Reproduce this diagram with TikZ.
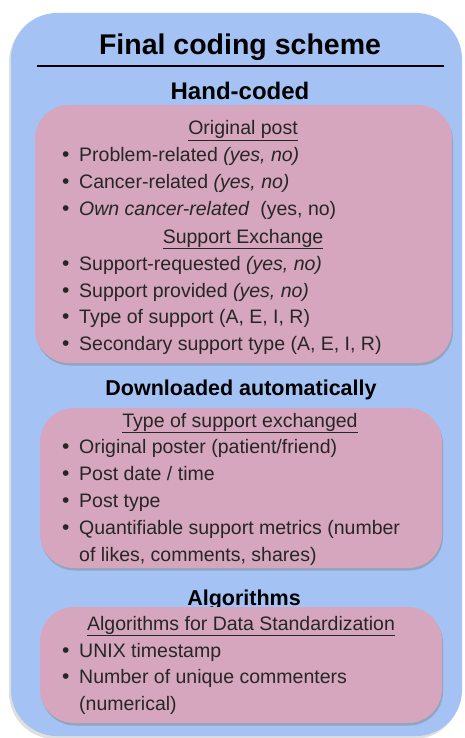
\documentclass[tikz,border=0pt]{standalone}
\usepackage{fontspec}
\setmainfont{Liberation Sans}
\usetikzlibrary{shadows}
\definecolor{outerblue}{HTML}{A4C2F4}
\definecolor{innerpink}{HTML}{D5A6BD}
\tikzset{
  x=1pt, y=-1pt,
  outerpanel/.style={fill=outerblue, rounded corners=46pt,
    drop shadow={opacity=0.25, shadow xshift=-2pt, shadow yshift=-3pt}},
  innerpanel/.style={fill=innerpink, rounded corners=34pt,
    drop shadow={opacity=0.45, shadow xshift=1pt, shadow yshift=-2.5pt}},
  titletext/.style={font=\fontsize{28.5}{32}\selectfont\bfseries, anchor=base, inner sep=0pt},
  sectiontext/.style={font=\fontsize{21.5}{25}\selectfont\bfseries, anchor=base, inner sep=0pt},
  headtext/.style={font=\fontsize{19.5}{23}\selectfont, anchor=base, inner sep=0pt, text=black!85},
  itemtext/.style={font=\fontsize{19.5}{23}\selectfont, anchor=base west, inner sep=0pt, text=black!85},
}
\newcommand{\itm}{\makebox[17pt][l]{\raisebox{-0.5pt}{\fontsize{21}{21}\selectfont\textbullet}}}
\newcommand{\ul}[1]{\underline{#1}}
\begin{document}
\begin{tikzpicture}
\useasboundingbox (0,0) rectangle (464,738);
% outer panel
\path[outerpanel] (11,13) rectangle (462,736);
% title and rule
\node[titletext] (title) at (240,55) {Final coding scheme};
\coordinate (ruleL) at (37,66);
\coordinate (ruleR) at (444,66);
\draw[line width=2pt] (ruleL) -- (ruleR);

% hand-coded section
\node[sectiontext, font=\fontsize{24}{28}\selectfont\bfseries] (hand) at (240,100) {Hand-coded};
\path[innerpanel] (35,105) rectangle (452,363);
\node[headtext] (orig) at (243,135) {\ul{Original post}};
\node[itemtext] (i1) at (62,161) {\itm Problem-related \textit{(yes, no)}};
\node[itemtext] (i2) at (62,188) {\itm Cancer-related \textit{(yes, no)}};
\node[itemtext] (i3) at (62,215) {\itm \textit{Own cancer-related}\ \ (yes, no)};
\node[headtext] (supp) at (243,243) {\ul{Support Exchange}};
\node[itemtext] (i4) at (62,270) {\itm Support-requested \textit{(yes, no)}};
\node[itemtext] (i5) at (62,297) {\itm Support provided \textit{(yes, no)}};
\node[itemtext] (i6) at (62,323) {\itm Type of support (A, E, I, R)};
\node[itemtext] (i7) at (62,350) {\itm Secondary support type (A, E, I, R)};

% downloaded section
\node[sectiontext] (down) at (241,395) {Downloaded automatically};
\path[innerpanel] (40,408) rectangle (442,568);
\node[headtext] (type) at (240,427) {\ul{Type of support exchanged}};
\node[itemtext] (d1) at (62,453) {\itm Original poster (patient/friend)};
\node[itemtext] (d2) at (62,480) {\itm Post date / time};
\node[itemtext] (d3) at (62,507) {\itm Post type};
\node[itemtext] (d4) at (62,534) {\itm Quantifiable support metrics (number};
\node[itemtext] (d5) at (79,561) {of likes, comments, shares)};

% algorithms section
\node[sectiontext] (alg) at (244,605) {Algorithms};
\path[innerpanel] (40,607) rectangle (442,723);
\node[headtext] (std) at (241,630) {\ul{Algorithms for Data Standardization}};
\node[itemtext] (a1) at (62,657) {\itm UNIX timestamp};
\node[itemtext] (a2) at (62,683) {\itm Number of unique commenters};
\node[itemtext] (a3) at (79,710) {(numerical)};
\end{tikzpicture}
\end{document}
